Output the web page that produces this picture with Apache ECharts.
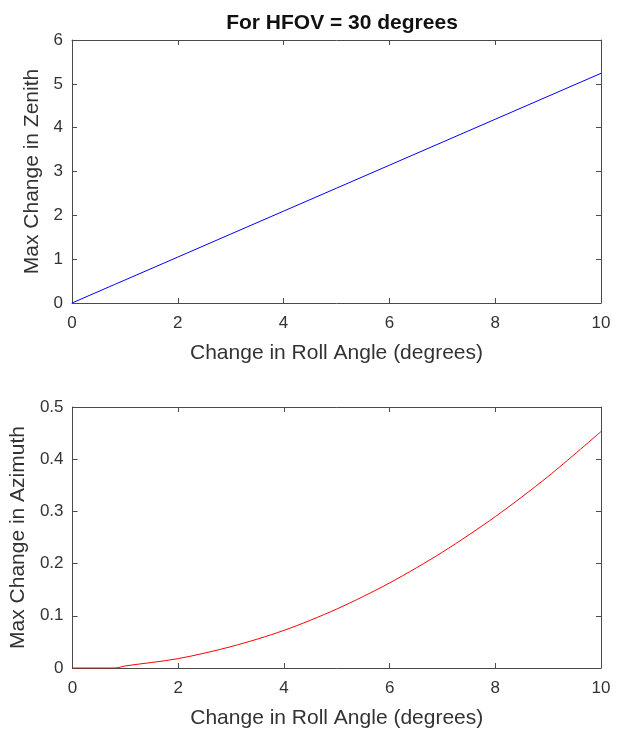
<!DOCTYPE html>
<html>
<head>
<meta charset="utf-8">
<script src="https://cdn.jsdelivr.net/npm/echarts@6/dist/echarts.min.js"></script>
<style>
  html, body { margin: 0; padding: 0; background: #fff; }
  #chart { width: 618px; height: 730px; }
</style>
</head>
<body>
<div id="chart"></div>
<script>
// Roll angle change (degrees)
const rollAngles = [0, 0.8, 1, 2, 3, 4, 5, 6, 7, 8, 9, 10];
// Maximum zenith change for each roll angle
const zenithChange = [0, 0.42, 0.524, 1.048, 1.572, 2.096, 2.62, 3.144, 3.668, 4.192, 4.716, 5.24];
// Maximum azimuth change for each roll angle
const azimuthChange = [0, 0, 0.004, 0.018, 0.041, 0.072, 0.113, 0.163, 0.222, 0.29, 0.367, 0.453];

const titleText = 'For HFOV = 30 degrees';
const xName = 'Change in Roll Angle (degrees)';
const yNameTop = 'Max Change in Zenith';
const yNameBottom = 'Max Change in Azimuth';

const FONT = '"Liberation Sans", Arial, sans-serif';
const AX = '#4a4a4a';
const TXT = '#333333';

function pairs(xs, ys) { return xs.map((x, i) => [x, ys[i]]); }

function xAxisPair(gridIndex) {
  const base = {
    gridIndex, type: 'value', min: 0, max: 10, interval: 2,
    axisLine: { show: true, onZero: false, lineStyle: { color: AX, width: 1 } },
    axisTick: { show: true, inside: true, length: 5, lineStyle: { color: AX } },
    splitLine: { show: false }
  };
  return [
    Object.assign({}, base, {
      position: 'bottom',
      axisLabel: { color: TXT, fontSize: 17, fontFamily: FONT, margin: 12 },
      name: xName, nameLocation: 'middle', nameGap: 40,
      nameTextStyle: { color: TXT, fontSize: 21, fontFamily: FONT }
    }),
    Object.assign({}, base, { position: 'top', axisLabel: { show: false } })
  ];
}

function yAxisPair(gridIndex, max, interval, name, gap) {
  const base = {
    gridIndex, type: 'value', min: 0, max, interval,
    axisLine: { show: true, onZero: false, lineStyle: { color: AX, width: 1 } },
    axisTick: { show: true, inside: true, length: 5, lineStyle: { color: AX } },
    splitLine: { show: false }
  };
  return [
    Object.assign({}, base, {
      position: 'left',
      axisLabel: { color: TXT, fontSize: 17, fontFamily: FONT, margin: 9, padding: [6, 0, 0, 0] },
      name, nameLocation: 'middle', nameGap: gap,
      nameTextStyle: { color: TXT, fontSize: 21, fontFamily: FONT }
    }),
    Object.assign({}, base, { position: 'right', axisLabel: { show: false } })
  ];
}

const chart = echarts.init(document.getElementById('chart'), null, { renderer: 'canvas' });

chart.setOption({
  backgroundColor: '#ffffff',
  animation: false,
  title: {
    text: titleText, left: 337, top: 8, textAlign: 'center',
    textStyle: { fontSize: 21, fontWeight: 'bold', color: '#111', fontFamily: FONT }
  },
  grid: [
    { left: 72, top: 40, width: 529, height: 263 },
    { left: 72, top: 407, width: 529, height: 264 }
  ],
  xAxis: [...xAxisPair(0), ...xAxisPair(1)],
  yAxis: [
    ...yAxisPair(0, 6, 1, yNameTop, 24),
    ...yAxisPair(1, 0.5, 0.1, yNameBottom, 39)
  ],
  series: [
    {
      type: 'line', xAxisIndex: 0, yAxisIndex: 0,
      data: pairs(rollAngles, zenithChange),
      showSymbol: false, lineStyle: { color: '#0000ff', width: 1 }
    },
    {
      type: 'line', xAxisIndex: 2, yAxisIndex: 2, smooth: 0.3,
      data: pairs(rollAngles, azimuthChange),
      showSymbol: false, lineStyle: { color: '#ff0000', width: 1 }
    }
  ]
});
</script>
</body>
</html>
